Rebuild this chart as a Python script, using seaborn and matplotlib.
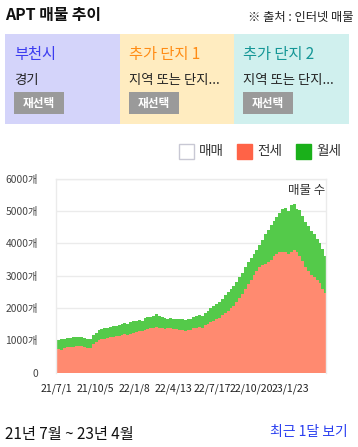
import numpy as np
import pandas as pd
import seaborn as sns
import matplotlib.pyplot as plt
from matplotlib.patches import Rectangle

# 주간 매물 수 (21/7/1 부터 7일 간격)
week_offset = list(range(0, 659, 7))
total_count = [1010, 1020, 1030, 1050, 1080, 1080, 1100, 1110, 1100, 1110,
               1090, 1060, 1040, 1160, 1220, 1310, 1360, 1380, 1400, 1430,
               1440, 1460, 1490, 1520, 1540, 1510, 1560, 1590, 1610, 1640,
               1610, 1680, 1720, 1740, 1760, 1810, 1750, 1720, 1690, 1670,
               1680, 1660, 1650, 1660, 1650, 1640, 1670, 1650, 1720, 1760,
               1780, 1760, 1850, 1920, 2000, 2060, 2120, 2200, 2280, 2400,
               2500, 2580, 2680, 2800, 2960, 3100, 3260, 3420, 3560, 3680,
               3800, 3950, 4100, 4300, 4420, 4560, 4700, 4810, 4940, 5080,
               5090, 5010, 5180, 5210, 5070, 5030, 4860, 4660, 4540, 4400,
               4280, 4150, 4010, 3820, 3600]
jeonse_count = [720, 730, 720, 760, 790, 800, 810, 820, 820, 820,
                810, 780, 760, 900, 960, 1010, 1050, 1060, 1090, 1110,
                1120, 1130, 1150, 1170, 1190, 1180, 1210, 1230, 1260, 1300,
                1290, 1330, 1360, 1380, 1400, 1420, 1390, 1380, 1370, 1390,
                1380, 1350, 1340, 1320, 1310, 1290, 1330, 1310, 1380, 1400,
                1420, 1400, 1470, 1520, 1570, 1610, 1660, 1690, 1780, 1840,
                1920, 2000, 2070, 2180, 2300, 2430, 2600, 2740, 2880, 3010,
                3140, 3270, 3330, 3380, 3420, 3500, 3610, 3670, 3730, 3740,
                3730, 3660, 3750, 3800, 3730, 3600, 3460, 3260, 3150, 3030,
                2950, 2860, 2770, 2580, 2460]

tick_days = [0, 96, 191, 286, 381, 476, 571]
tick_labels = ['21/7/1', '21/10/5', '22/1/8', '22/4/13', '22/7/17', '22/10/20', '23/1/23']
y_ticks = [0, 1000, 2000, 3000, 4000, 5000, 6000]
y_labels = ['0', '1000개', '2000개', '3000개', '4000개', '5000개', '6000개']

panel_titles = ['부천시', '추가 단지 1', '추가 단지 2']
panel_subs = ['경기', '지역 또는 단지...', '지역 또는 단지...']

wolse_count = [t - j for t, j in zip(total_count, jeonse_count)]
df = pd.DataFrame({
    'day': week_offset * 2,
    'type': ['전세'] * len(week_offset) + ['월세'] * len(week_offset),
    'count': jeonse_count + wolse_count,
})

sns.set_theme(style='white')
plt.rcParams['font.family'] = ['Noto Sans CJK KR', 'DejaVu Sans']

W, H = 358, 447
fig = plt.figure(figsize=(W / 100, H / 100), dpi=100)


def fx(x):
    return x / W


def fy(y):
    return 1 - y / H


def ftext(x, y, s, **kw):
    fig.text(fx(x), fy(y), s, va='center', **kw)


def frect(x0, y0, x1, y1, **kw):
    fig.add_artist(Rectangle((fx(x0), fy(y1)), fx(x1) - fx(x0), fy(y0) - fy(y1),
                             transform=fig.transFigure, **kw))


# 헤더
ftext(5, 15, 'APT 매물 추이', fontsize=11.4, fontweight='bold', color='#111111')
ftext(353, 18, '※ 출처 : 인터넷 매물', fontsize=8.8, ha='right', color='#222222',
      fontweight='medium')

# 단지 패널
panel_bg = ['#d4d4fa', '#ffecc0', '#d0f0ee']
title_col = ['#3c3cf0', '#ff8c14', '#149696']
edges = [5, 120, 234, 349]
for k in range(3):
    x0 = edges[k]
    frect(x0, 34, edges[k + 1], 124, facecolor=panel_bg[k], edgecolor='none')
    ftext(x0 + 9, 55, panel_titles[k], fontsize=11, color=title_col[k], fontweight='medium')
    ftext(x0 + 9, 80, panel_subs[k], fontsize=9.6, color='#222222')
    frect(x0 + 9, 92, x0 + 59, 114, facecolor='#9a9a9a', edgecolor='none')
    ftext(x0 + 34, 103, '재선택', fontsize=8.4, fontweight='bold', color='white', ha='center')

# 범례
legend_items = [('매매', 'white', '#c8c8d4'), ('전세', '#ff6347', '#ff6347'), ('월세', '#1ab01a', '#1ab01a')]
for (name, fc, ec), lx in zip(legend_items, [179, 237, 296]):
    frect(lx, 144, lx + 15, 159, facecolor=fc, edgecolor=ec, linewidth=1)
    ftext(lx + 20, 151, name, fontsize=9.8, color='#333333')

# 차트
ax = fig.add_axes([fx(56), fy(372.8), fx(325.7) - fx(56), fy(178.8) - fy(372.8)])
sns.histplot(data=df, x='day', weights='count', hue='type', hue_order=['월세', '전세'],
             multiple='stack', element='step', binwidth=7, binrange=(-3.5, 661.5),
             palette={'전세': '#ff8a70', '월세': '#54ca4a'}, alpha=1, linewidth=0,
             legend=False, ax=ax)
ax.set_xlim(0, 658)
ax.set_ylim(0, 6000)
ax.set_yticks(y_ticks)
ax.set_yticklabels(y_labels, fontsize=7.4, color='#444444')
ax.set_xticks(tick_days)
ax.set_xticklabels(tick_labels, fontsize=7.6, color='#222222')
ax.tick_params(length=0, pad=13)
ax.tick_params(axis='x', pad=8)
ax.grid(axis='y', color='#ebebeb', linewidth=1)
ax.set_axisbelow(True)
ax.set_xlabel('')
ax.set_ylabel('')
for side in ['left', 'right', 'top']:
    ax.spines[side].set_color('#ebebeb')
    ax.spines[side].set_linewidth(1)
ax.spines['bottom'].set_visible(False)
ax.text(1.0, 0.94, '매물 수', transform=ax.transAxes, ha='right', va='center',
        fontsize=9, color='#333333')

# 하단
ftext(5, 434, '21년 7월 ~ 23년 4월', fontsize=11, color='#111111', fontweight='medium')
ftext(348, 432, '최근 1달 보기', fontsize=10, color='#2a3ff0', ha='right', fontweight='medium')

fig.savefig('out.png', dpi=100)
